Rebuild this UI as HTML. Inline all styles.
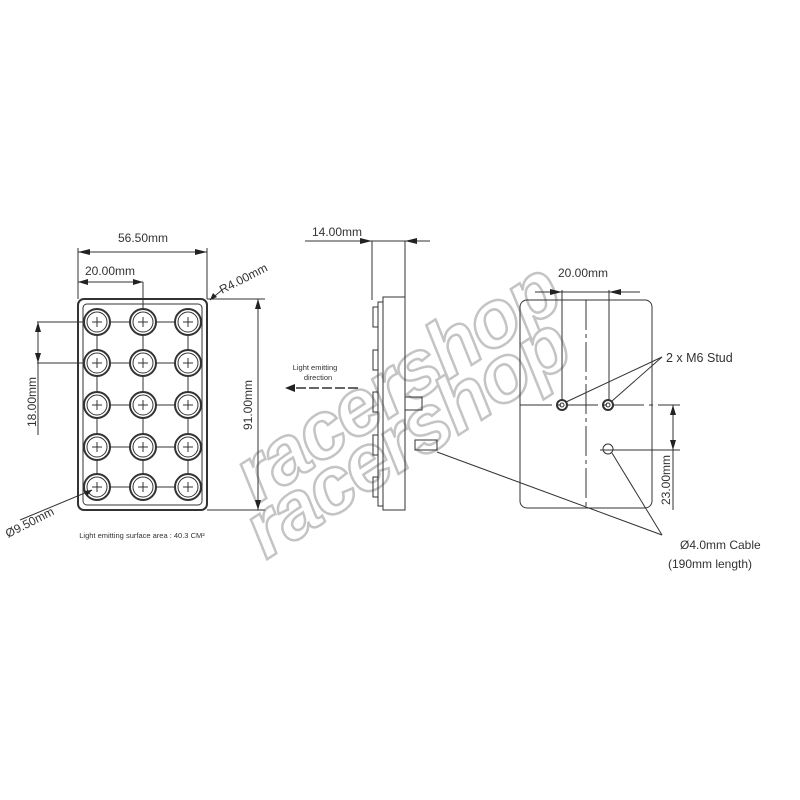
<!DOCTYPE html>
<html><head><style>body{margin:0;background:#fff}svg{display:block}</style></head><body>
<svg width="800" height="800" viewBox="0 0 800 800" xmlns="http://www.w3.org/2000/svg" font-family="Liberation Sans, sans-serif">
<defs>
<g id="led" stroke="#333" fill="#fff"><circle r="13" stroke-width="2"/><circle r="10"/><path d="M-5 0H5M0 -5V5"/></g>
</defs>
<rect width="800" height="800" fill="#fff"/>
<!-- watermarks -->
<g font-style="italic" font-weight="bold" font-size="80" fill="#fff" stroke="#c4c4c4" stroke-width="2.5" letter-spacing="-2">
<text x="0" y="0" transform="translate(256,505) rotate(-33)">racershop</text>
<text x="0" y="0" transform="translate(266,560) rotate(-33)">racershop</text>
</g>
<g stroke="#333" fill="none" stroke-width="1">
<!-- left view -->
<rect x="78" y="299" width="129" height="211" rx="6" stroke-width="2"/>
<rect x="83" y="304" width="119" height="201" rx="4"/>
<line x1="97" y1="322" x2="188" y2="322"/><line x1="97" y1="363" x2="188" y2="363"/><line x1="97" y1="405" x2="188" y2="405"/><line x1="97" y1="447" x2="188" y2="447"/><line x1="97" y1="487" x2="188" y2="487"/>
<line x1="97" y1="322" x2="97" y2="487"/><line x1="143" y1="322" x2="143" y2="487"/><line x1="188" y1="322" x2="188" y2="487"/>
</g>
<use href="#led" x="97" y="322"/><use href="#led" x="143" y="322"/><use href="#led" x="188" y="322"/>
<use href="#led" x="97" y="363"/><use href="#led" x="143" y="363"/><use href="#led" x="188" y="363"/>
<use href="#led" x="97" y="405"/><use href="#led" x="143" y="405"/><use href="#led" x="188" y="405"/>
<use href="#led" x="97" y="447"/><use href="#led" x="143" y="447"/><use href="#led" x="188" y="447"/>
<use href="#led" x="97" y="487"/><use href="#led" x="143" y="487"/><use href="#led" x="188" y="487"/>
<g stroke="#333" fill="none" stroke-width="1">
<!-- dims left -->
<line x1="78" y1="248" x2="78" y2="299"/><line x1="207" y1="248" x2="207" y2="299"/>
<line x1="78" y1="252" x2="207" y2="252"/>
<line x1="78" y1="282" x2="143" y2="282"/><line x1="143" y1="282" x2="143" y2="310"/>
<line x1="37" y1="322" x2="85" y2="322"/><line x1="37" y1="363" x2="85" y2="363"/>
<line x1="38" y1="322" x2="38" y2="363"/><line x1="38" y1="363" x2="38" y2="435"/>
<line x1="207" y1="299" x2="265" y2="299"/><line x1="207" y1="510" x2="265" y2="510"/>
<line x1="258" y1="299" x2="258" y2="510"/>
<line x1="210" y1="300" x2="222" y2="290"/>
<line x1="20" y1="520" x2="92" y2="490"/>
<!-- side view -->
<line x1="305" y1="241" x2="430" y2="241"/>
<line x1="372" y1="241" x2="372" y2="300"/><line x1="405" y1="241" x2="405" y2="297"/>
<rect x="383" y="297" width="22" height="213"/>
<rect x="378" y="302" width="5" height="204"/>
<path d="M378 307h-5v20h5M378 350h-5v20h5M378 392h-5v20h5M378 435h-5v20h5M378 477h-5v20h5"/>
<rect x="405" y="397" width="17" height="13"/>
<rect x="415" y="440" width="22" height="10"/>
<line x1="358" y1="388" x2="292" y2="388" stroke-width="1.5" stroke-dasharray="10 3"/>
<!-- right view -->
<rect x="520" y="300" width="132" height="208" rx="7"/>
<line x1="535" y1="292" x2="640" y2="292"/>
<line x1="562" y1="290" x2="562" y2="400"/><line x1="609" y1="290" x2="609" y2="400"/>
<line x1="586" y1="300" x2="586" y2="508" stroke-dasharray="30 4 4 4"/>
<line x1="520" y1="405" x2="680" y2="405" stroke-dasharray="32 5 4 5"/>
<line x1="600" y1="450" x2="680" y2="450"/>
<line x1="673" y1="405" x2="673" y2="510"/>
<circle cx="562" cy="405" r="5" stroke-width="2"/><circle cx="562" cy="405" r="2"/>
<circle cx="608" cy="405" r="5" stroke-width="2"/><circle cx="608" cy="405" r="2"/>
<circle cx="608" cy="449" r="5"/>
<line x1="662" y1="357" x2="566" y2="402"/><line x1="662" y1="357" x2="612" y2="401"/>
<line x1="662" y1="535" x2="612" y2="453"/><line x1="662" y1="535" x2="437" y2="452"/>
</g>
<!-- arrowheads -->
<g fill="#222">
<path d="M78 252l12-3v6zM207 252l-12-3v6zM78 282l10-3v6zM143 282l-10-3v6z"/>
<path d="M38 322l-3 10h6zM38 363l-3-10h6z"/>
<path d="M258 299l-3 10h6zM258 510l-3-10h6z"/>
<path d="M372 241l-12-3v6zM405 241l12-3v6z"/>
<path d="M285 388l10-4v8z"/>
<path d="M562 292l-12-3v6zM609 292l12-3v6z"/>
<path d="M673 405l-3 10h6zM673 450l-3-10h6z"/>
<path d="M210 300l3-7 4 4z"/><path d="M92 490l-8 1 3 5z"/>
</g>
<!-- text -->
<g fill="#333" font-size="12">
<text x="143" y="242" text-anchor="middle">56.50mm</text>
<text x="110" y="275" text-anchor="middle">20.00mm</text>
<text transform="translate(222,294) rotate(-27)">R4.00mm</text>
<text transform="translate(36,402) rotate(-90)" text-anchor="middle">18.00mm</text>
<text transform="translate(252,405) rotate(-90)" text-anchor="middle">91.00mm</text>
<text transform="translate(8,538) rotate(-27)">Ø9.50mm</text>
<text x="337" y="236" text-anchor="middle">14.00mm</text>
<text x="583" y="277" text-anchor="middle">20.00mm</text>
<text x="666" y="362" font-size="12.5">2  x M6 Stud</text>
<text transform="translate(670,480) rotate(-90)" text-anchor="middle">23.00mm</text>
<text x="680" y="549">Ø4.0mm Cable</text>
<text x="668" y="568">(190mm length)</text>
</g>
<g fill="#333" font-size="7.5">
<text x="315" y="370" text-anchor="middle">Light emitting</text>
<text x="318" y="380" text-anchor="middle">direction</text>
<text x="142" y="538" text-anchor="middle">Light emitting surface area : 40.3 CM²</text>
</g>
</svg>
</body></html>
